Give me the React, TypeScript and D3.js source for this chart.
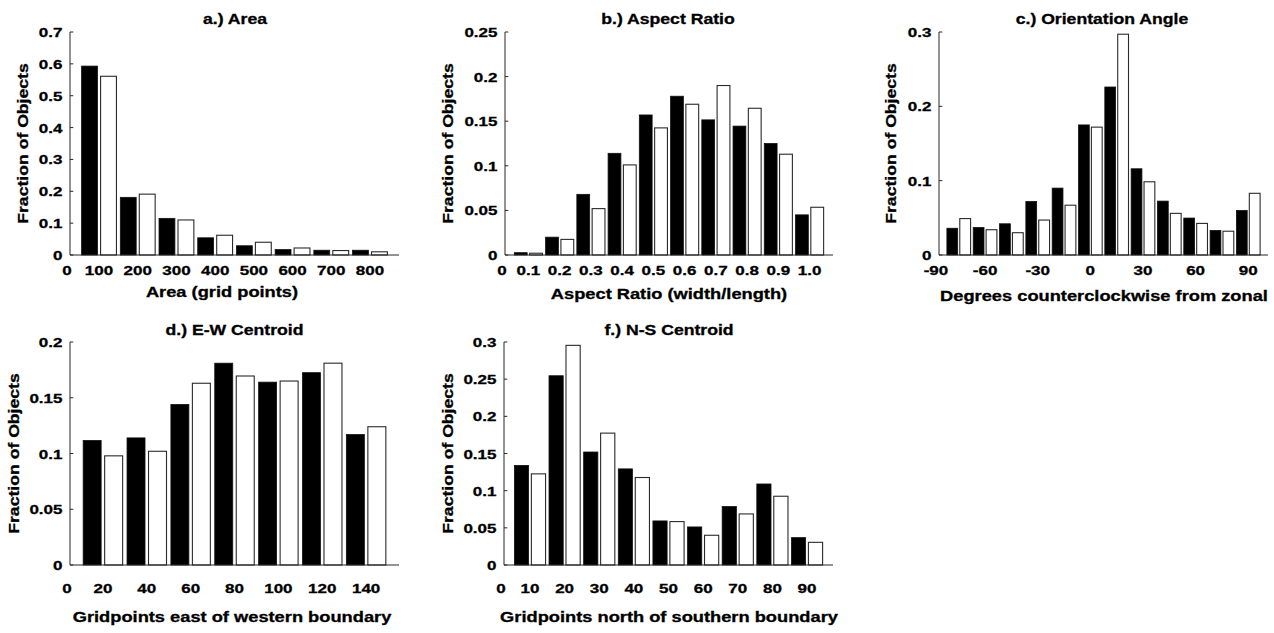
import React from "react";
import * as d3 from "d3";

// ---------- data ----------
const areaCats = ["100", "200", "300", "400", "500", "600", "700", "800"];
const areaBlack = [0.593, 0.181, 0.115, 0.054, 0.029, 0.017, 0.015, 0.015];
const areaWhite = [0.561, 0.191, 0.11, 0.062, 0.04, 0.022, 0.014, 0.01];

const aspectCats = ["0.1", "0.2", "0.3", "0.4", "0.5", "0.6", "0.7", "0.8", "0.9", "1.0"];
const aspectBlack = [0.0026, 0.02, 0.068, 0.114, 0.157, 0.178, 0.1515, 0.1445, 0.125, 0.045];
const aspectWhite = [0.002, 0.0175, 0.052, 0.101, 0.1425, 0.169, 0.19, 0.1645, 0.113, 0.0535];

const orientCats = ["", "-60", "", "-30", "", "0", "", "30", "", "60", "", "90"];
const orientBlack = [0.036, 0.037, 0.042, 0.072, 0.09, 0.175, 0.226, 0.116, 0.0725, 0.0497, 0.033, 0.06];
const orientWhite = [0.049, 0.034, 0.03, 0.047, 0.067, 0.172, 0.297, 0.0985, 0.056, 0.0425, 0.032, 0.083];

const ewCats = ["20", "40", "60", "80", "100", "120", "140"];
const ewBlack = [0.1117, 0.114, 0.144, 0.181, 0.164, 0.1725, 0.117];
const ewWhite = [0.0979, 0.102, 0.163, 0.1695, 0.165, 0.181, 0.124];

const nsCats = ["10", "20", "30", "40", "50", "60", "70", "80", "90"];
const nsBlack = [0.134, 0.2546, 0.152, 0.1293, 0.0593, 0.0512, 0.0786, 0.109, 0.0368];
const nsWhite = [0.1226, 0.2955, 0.1774, 0.1177, 0.0584, 0.04, 0.0687, 0.0925, 0.0305];

const yLabel = "Fraction of Objects";

// ---------- layout ----------
type Panel = {
  title: string;
  xLabel: string;
  zeroLabel: string;
  cats: string[];
  black: number[];
  white: number[];
  yMax: number;
  yStep: number;
  left: number;
  right: number;
  top: number;
  bottom: number;
  titleX: number;
  titleY: number;
  xLabelX: number;
  xLabelY: number;
  yLabelX: number;
  tickLabelDy: number;
};

const panels: Panel[] = [
  {
    title: "a.) Area", xLabel: "Area (grid points)", zeroLabel: "0",
    cats: areaCats, black: areaBlack, white: areaWhite, yMax: 0.7, yStep: 0.1,
    left: 70, right: 399, top: 32, bottom: 255,
    titleX: 235, titleY: 24, xLabelX: 222, xLabelY: 297, yLabelX: 28, tickLabelDy: 20,
  },
  {
    title: "b.) Aspect Ratio", xLabel: "Aspect Ratio (width/length)", zeroLabel: "0",
    cats: aspectCats, black: aspectBlack, white: aspectWhite, yMax: 0.25, yStep: 0.05,
    left: 505, right: 833, top: 32, bottom: 255,
    titleX: 668, titleY: 24, xLabelX: 669, xLabelY: 299, yLabelX: 453, tickLabelDy: 20,
  },
  {
    title: "c.) Orientation Angle", xLabel: "Degrees counterclockwise from zonal", zeroLabel: "-90",
    cats: orientCats, black: orientBlack, white: orientWhite, yMax: 0.3, yStep: 0.1,
    left: 939, right: 1268, top: 32, bottom: 255,
    titleX: 1102, titleY: 24, xLabelX: 1104, xLabelY: 301, yLabelX: 896, tickLabelDy: 20,
  },
  {
    title: "d.) E-W Centroid", xLabel: "Gridpoints east of western boundary", zeroLabel: "0",
    cats: ewCats, black: ewBlack, white: ewWhite, yMax: 0.2, yStep: 0.05,
    left: 70, right: 399, top: 342, bottom: 565,
    titleX: 234.5, titleY: 335, xLabelX: 232, xLabelY: 622, yLabelX: 19, tickLabelDy: 28,
  },
  {
    title: "f.) N-S Centroid", xLabel: "Gridpoints north of southern boundary", zeroLabel: "0",
    cats: nsCats, black: nsBlack, white: nsWhite, yMax: 0.3, yStep: 0.05,
    left: 504, right: 833, top: 342, bottom: 565,
    titleX: 669, titleY: 335, xLabelX: 669, xLabelY: 622, yLabelX: 453, tickLabelDy: 28,
  },
];

const FONT = "'Liberation Sans', Arial, Helvetica, sans-serif";
const SX = 1.26;
const AXIS = "#262626";

function T(props: {
  x: number; y: number; size: number; anchor?: string; rotate?: boolean; children: string;
}) {
  const { x, y, size, anchor = "middle", rotate = false, children } = props;
  const tf = rotate
    ? `translate(${x},${y}) rotate(-90) scale(${SX},1)`
    : `translate(${x},${y}) scale(${SX},1)`;
  return (
    <text
      transform={tf}
      textAnchor={anchor}
      fontFamily={FONT}
      fontWeight="bold"
      fontSize={size}
      fill="#000"
      stroke="#000"
      strokeWidth={0.3}
    >
      {children}
    </text>
  );
}

const fmt = (v: number) => String(+v.toFixed(2));

function PanelView({ p }: { p: Panel }) {
  const n = p.cats.length;
  const x = d3.scaleLinear().domain([0.25, n + 0.75]).range([p.left, p.right]);
  const y = d3.scaleLinear().domain([0, p.yMax]).range([p.bottom, p.top]);
  const ticks = d3.range(0, p.yMax + 1e-9, p.yStep);
  const bw = 0.41;
  const gap = 0.04;
  return (
    <g>
      {p.black.map((v, i) => (
        <rect
          key={"b" + i}
          x={x(i + 1 - gap - bw)}
          y={y(v)}
          width={x(i + 1 - gap) - x(i + 1 - gap - bw)}
          height={y(0) - y(v)}
          fill="#000"
          stroke="#111"
          strokeWidth={0.8}
        />
      ))}
      {p.white.map((v, i) => (
        <rect
          key={"w" + i}
          x={x(i + 1 + gap)}
          y={y(v)}
          width={x(i + 1 + gap + bw) - x(i + 1 + gap)}
          height={y(0) - y(v)}
          fill="#fff"
          stroke="#2a2a2a"
          strokeWidth={1.1}
        />
      ))}
      {/* axes */}
      <line x1={p.left} x2={p.left} y1={p.top} y2={p.bottom} stroke={AXIS} strokeWidth={1} />
      <line x1={p.left} x2={p.right} y1={p.bottom} y2={p.bottom} stroke={AXIS} strokeWidth={1} />
      {ticks.map((t, i) => (
        <g key={"t" + i}>
          <line x1={p.left} x2={p.left + 3.3} y1={y(t)} y2={y(t)} stroke={AXIS} strokeWidth={1} />
          <T x={p.left - 7.5} y={y(t) + 5} size={13.5} anchor="end">{fmt(t)}</T>
        </g>
      ))}
      {/* x tick labels */}
      <T x={p.left - 3} y={p.bottom + p.tickLabelDy} size={13.5}>{p.zeroLabel}</T>
      {p.cats.map((c, i) =>
        c ? (
          <T key={"c" + i} x={x(i + 1)} y={p.bottom + p.tickLabelDy} size={13.5}>{c}</T>
        ) : null
      )}
      <T x={p.titleX} y={p.titleY} size={14}>{p.title}</T>
      <T x={p.xLabelX} y={p.xLabelY} size={14.5}>{p.xLabel}</T>
      <T x={p.yLabelX} y={(p.top + p.bottom) / 2} size={14} rotate>{yLabel}</T>
    </g>
  );
}

export default function App() {
  return (
    <svg
      width={1274}
      height={633}
      style={{ position: "absolute", left: 0, top: 0, background: "#fff" }}
    >
      <rect width={1274} height={633} fill="#fff" />
      {panels.map((p, i) => (
        <PanelView key={i} p={p} />
      ))}
    </svg>
  );
}
